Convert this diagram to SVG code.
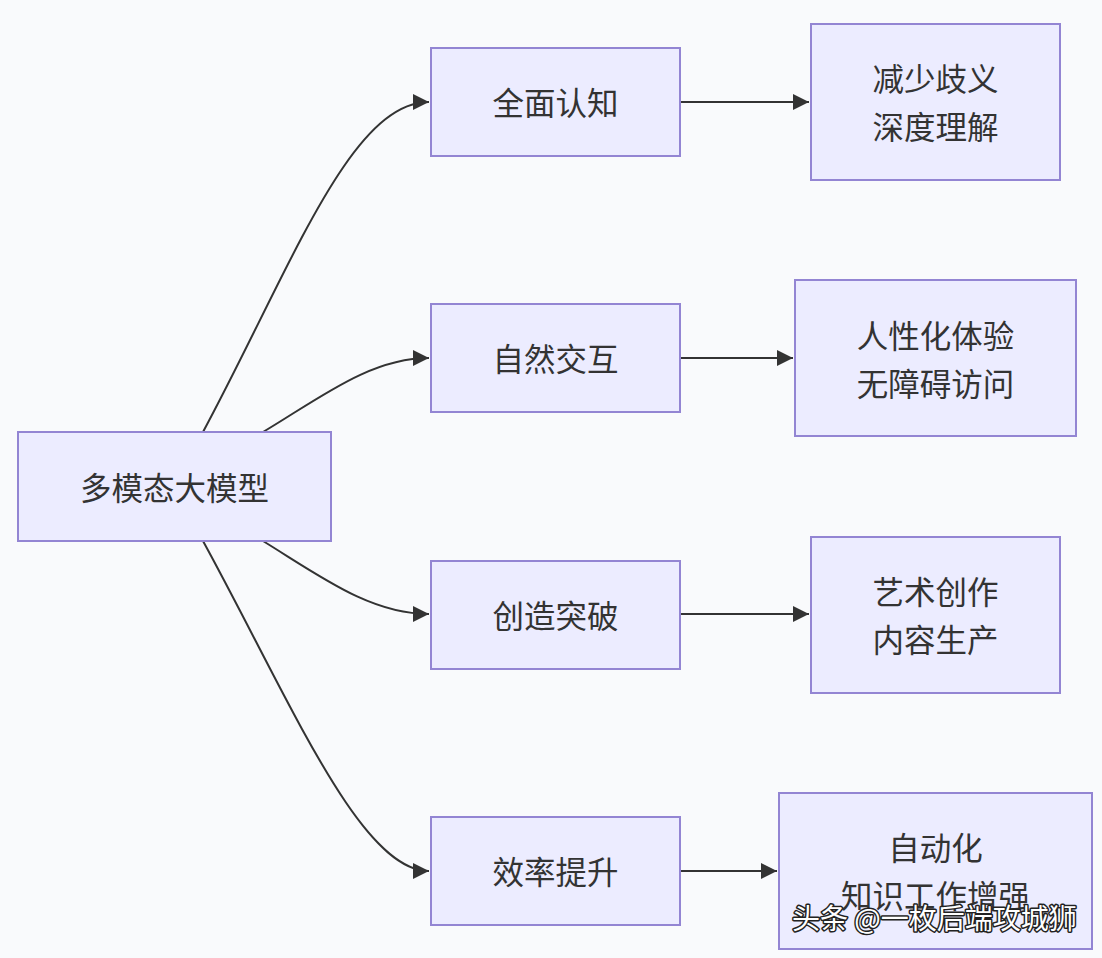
<svg xmlns="http://www.w3.org/2000/svg" width="1102" height="958" viewBox="0 0 1102 958">
<style>
.node rect{fill:#ECECFF;stroke:#9385d3;stroke-width:2}
.node text{font-family:"Noto Sans CJK SC","Noto Sans",sans-serif;font-size:31.5px;fill:#333;text-anchor:middle;dominant-baseline:central}
.edges path{fill:none;stroke:#333;stroke-width:2}
.wm{font-family:"Noto Sans CJK SC","Noto Sans",sans-serif;font-size:28px;fill:#fff;stroke:#222;stroke-width:3;paint-order:stroke;stroke-linejoin:round}
</style>
<defs>
<marker id="arr" viewBox="0 0 10 10" refX="10" refY="5" markerWidth="16" markerHeight="16" markerUnits="userSpaceOnUse" orient="auto">
<path d="M0,0 L10,5 L0,10 z" fill="#333"/>
</marker>
</defs>
<rect width="1102" height="958" fill="#f9fafc"/>
<g class="edges">
<path d="M203,432 C290,270 350,102 429,102" marker-end="url(#arr)"/>
<path d="M263,432 C320,398 370,358 429,358" marker-end="url(#arr)"/>
<path d="M263,541 C320,576 370,614 429,614" marker-end="url(#arr)"/>
<path d="M203,541 C290,700 360,871 429,871" marker-end="url(#arr)"/>
<path d="M680,102 L809,102" marker-end="url(#arr)"/>
<path d="M680,358 L793,358" marker-end="url(#arr)"/>
<path d="M680,614 L809,614" marker-end="url(#arr)"/>
<path d="M680,871 L777,871" marker-end="url(#arr)"/>
</g>
<g id="A" class="node"><rect x="18" y="432" width="313" height="109"/><text x="174.5" y="486">多模态大模型</text></g>
<g id="B" class="node"><rect x="431" y="48" width="249" height="108"/><text x="555.5" y="101">全面认知</text></g>
<g id="C" class="node"><rect x="431" y="304" width="249" height="108"/><text x="555.5" y="357">自然交互</text></g>
<g id="D" class="node"><rect x="431" y="561" width="249" height="108"/><text x="555.5" y="614">创造突破</text></g>
<g id="E" class="node"><rect x="431" y="817" width="249" height="108"/><text x="555.5" y="870">效率提升</text></g>
<g id="F" class="node"><rect x="811" y="24" width="249" height="156"/><text x="935.5" y="77">减少歧义</text><text x="935.5" y="125">深度理解</text></g>
<g id="G" class="node"><rect x="795" y="280" width="281" height="156"/><text x="935.5" y="334">人性化体验</text><text x="935.5" y="382">无障碍访问</text></g>
<g id="H" class="node"><rect x="811" y="537" width="249" height="156"/><text x="935.5" y="590">艺术创作</text><text x="935.5" y="638">内容生产</text></g>
<g id="I" class="node"><rect x="779" y="793" width="313" height="156"/><text x="935.5" y="846">自动化</text><text x="935.5" y="894">知识工作增强</text></g>
<text class="wm" x="792" y="929">头条 @一枚后端攻城狮</text>
</svg>
